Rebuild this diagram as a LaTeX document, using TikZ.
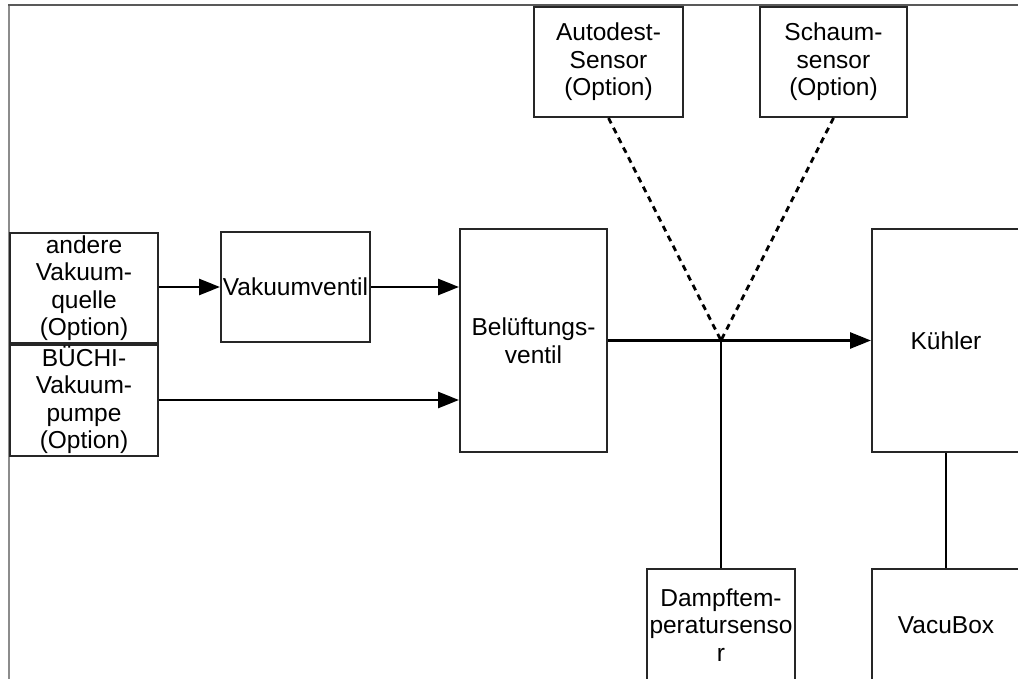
\documentclass[tikz,border=0pt]{standalone}
\usepackage{fontspec}
\setmainfont{Liberation Sans}
\usetikzlibrary{arrows.meta}
\begin{document}
\begin{tikzpicture}[x=1pt,y=-1pt,
  blk/.style={draw=black!85,line width=2pt,fill=white,inner sep=0pt,align=center,
    font=\fontsize{24.5}{27.5}\selectfont},
  conn/.style={line width=2.8pt,black},
  arr/.style={conn,-{Triangle[length=21pt,width=16pt]}},
  dsh/.style={conn,dash pattern=on 6pt off 5pt}]
\useasboundingbox (0,0) rectangle (1018,679);
\clip (0,0) rectangle (1018,679);
\fill[white] (0,0) rectangle (1018,679);
\draw[black!45,line width=2pt] (9,680) -- (9,5);
\draw[black!65,line width=2pt] (8,5) -- (1020,5);

\node[blk,minimum width=149pt,minimum height=110pt] (auto) at (608.5,62) {Autodest-\\Sensor\\(Option)};
\node[blk,minimum width=147pt,minimum height=110pt] (schaum) at (833.5,62) {Schaum-\\sensor\\(Option)};
\node[blk,minimum width=148pt,minimum height=110pt] (andere) at (84,288) {andere\\Vakuum-\\quelle\\(Option)};
\node[blk,minimum width=148pt,minimum height=111pt] (buechi) at (84,400) {BÜCHI-\\Vakuum-\\pumpe\\(Option)};
\node[blk,minimum width=149pt,minimum height=110pt] (vv) at (295.5,287) {Vakuumventil};
\node[blk,minimum width=147pt,minimum height=223pt] (belu) at (533.5,340.5) {Belüftungs-\\ventil};
\node[blk,minimum width=148pt,minimum height=223pt] (kuehler) at (946,340.5) {Kühler};
\node[blk,minimum width=148pt,minimum height=112pt] (damp) at (721,625) {Dampftem-\\peratursenso\\r};
\node[blk,minimum width=148pt,minimum height=112pt] (vacu) at (946,625) {VacuBox};

\coordinate (j) at (721,340.5);

\draw[arr] (andere.east |- vv.west) -- (vv.west);
\draw[arr] (vv.east) -- (vv.east -| belu.west);
\draw[arr] (buechi.east) -- (buechi.east -| belu.west);
\draw[arr] (belu.east) -- (kuehler.west);
\draw[conn] (j) -- (damp.north);
\draw[conn] (kuehler.south) -- (vacu.north);
\draw[dsh] (auto.south) -- (j);
\draw[dsh] (schaum.south) -- (j);
\end{tikzpicture}
\end{document}
